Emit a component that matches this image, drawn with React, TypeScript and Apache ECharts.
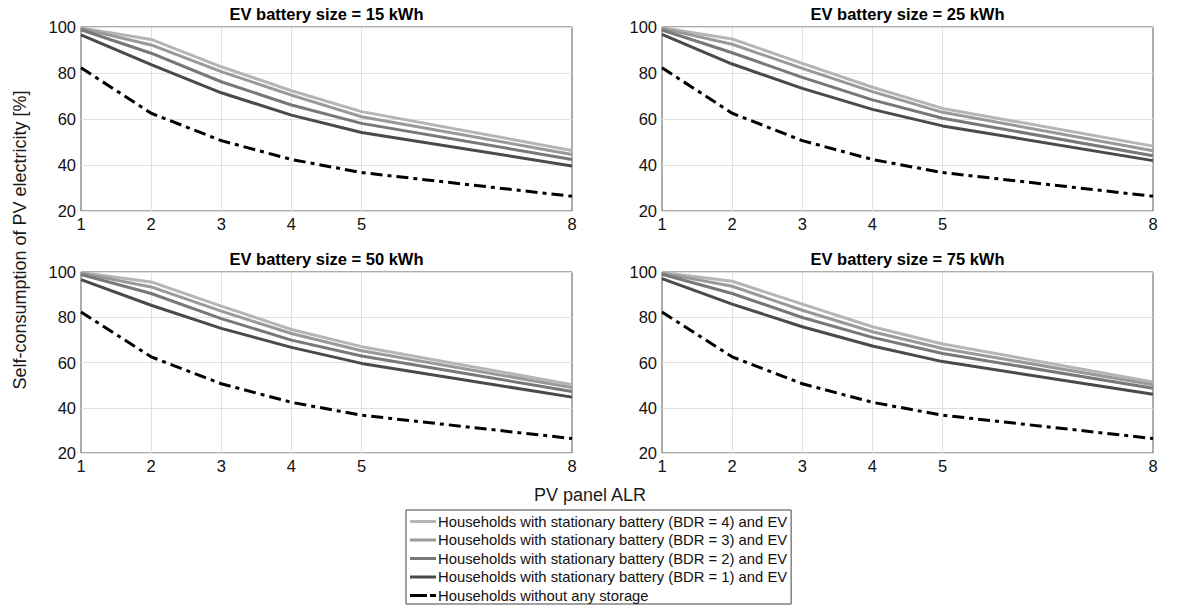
import React, { useEffect, useRef } from "react";
import * as echarts from "echarts";

const alr = [1, 2, 3, 4, 5, 8];
const xTickLabels = [1, 2, 3, 4, 5, 8];
const gridXValues = [2, 3, 4, 5];

const panelTitles = [
  "EV battery size = 15 kWh",
  "EV battery size = 25 kWh",
  "EV battery size = 50 kWh",
  "EV battery size = 75 kWh",
];

const seriesNames = [
  "Households with stationary battery (BDR = 4) and EV",
  "Households with stationary battery (BDR = 3) and EV",
  "Households with stationary battery (BDR = 2) and EV",
  "Households with stationary battery (BDR = 1) and EV",
  "Households without any storage",
];

// EV 15 kWh
const ev15Bdr4 = [99.6, 94.6, 82.7, 72.3, 63.2, 46.3];
const ev15Bdr3 = [99.4, 92.2, 80.6, 70.4, 61.0, 44.6];
const ev15Bdr2 = [98.8, 88.6, 76.2, 66.1, 58.1, 42.4];
const ev15Bdr1 = [96.6, 83.6, 71.4, 61.7, 54.1, 39.6];
// EV 25 kWh
const ev25Bdr4 = [99.7, 94.8, 84.2, 73.8, 64.6, 48.2];
const ev25Bdr3 = [99.4, 92.5, 82.0, 71.9, 62.9, 46.2];
const ev25Bdr2 = [98.7, 88.8, 78.1, 68.3, 60.3, 44.0];
const ev25Bdr1 = [96.8, 83.9, 73.3, 64.2, 57.0, 41.9];
// EV 50 kWh
const ev50Bdr4 = [99.8, 95.6, 84.9, 74.6, 67.0, 50.2];
const ev50Bdr3 = [99.5, 93.4, 82.7, 72.8, 65.2, 48.9];
const ev50Bdr2 = [98.9, 90.5, 79.4, 69.9, 62.9, 47.2];
const ev50Bdr1 = [96.6, 85.3, 75.1, 66.7, 59.6, 44.7];
// EV 75 kWh
const ev75Bdr4 = [99.8, 95.9, 85.8, 75.8, 68.2, 51.4];
const ev75Bdr3 = [99.5, 93.7, 83.1, 73.6, 66.2, 50.2];
const ev75Bdr2 = [99.0, 90.5, 79.9, 71.1, 64.0, 48.6];
const ev75Bdr1 = [97.1, 85.8, 75.8, 67.3, 60.4, 46.0];
// Without storage (same in all panels)
const noStorage = [82.3, 62.5, 50.6, 42.4, 36.7, 26.4];

const panelData = [
  [ev15Bdr4, ev15Bdr3, ev15Bdr2, ev15Bdr1, noStorage],
  [ev25Bdr4, ev25Bdr3, ev25Bdr2, ev25Bdr1, noStorage],
  [ev50Bdr4, ev50Bdr3, ev50Bdr2, ev50Bdr1, noStorage],
  [ev75Bdr4, ev75Bdr3, ev75Bdr2, ev75Bdr1, noStorage],
];

const seriesColors = ["#b5b5b5", "#999999", "#787878", "#4a4a4a", "#000000"];

const gridBoxes = [
  { left: 81, top: 27, width: 491, height: 184 },
  { left: 662, top: 27, width: 491, height: 184 },
  { left: 81, top: 272, width: 491, height: 181 },
  { left: 662, top: 272, width: 491, height: 181 },
];

const FONT = "'Liberation Sans', Arial, Helvetica, sans-serif";
const SOLID_ICON = "path://M0,0h26v3h-26z";
const DASHDOT_ICON = "path://M0,0h17v3h-17z M20,0h6v3h-6z";

export default function App() {
  const ref = useRef<HTMLDivElement>(null);

  useEffect(() => {
    if (!ref.current) return;
    const chart = echarts.init(ref.current, undefined, { renderer: "svg" });

    const grids = gridBoxes.map((g) => ({
      ...g,
      show: true,
      borderColor: "#5a5a5a",
      borderWidth: 1,
      backgroundColor: "#ffffff",
      containLabel: false,
    }));

    const xAxes = gridBoxes.map((_, i) => ({
      type: "value",
      gridIndex: i,
      min: 1,
      max: 8,
      interval: 1,
      axisLine: { show: false },
      axisTick: { show: false },
      splitLine: { show: false },
      axisLabel: {
        show: true,
        color: "#111",
        fontSize: 16.5,
        fontFamily: FONT,
        margin: 4,
        formatter: (v: number) => (xTickLabels.includes(v) ? String(v) : ""),
      },
    }));

    const yAxes = gridBoxes.map((_, i) => ({
      type: "value",
      gridIndex: i,
      min: 20,
      max: 100,
      interval: 20,
      axisLine: { show: false },
      axisTick: { show: false },
      splitLine: { show: true, lineStyle: { color: "#e0e0e0", width: 1 } },
      axisLabel: {
        color: "#111",
        fontSize: 16.5,
        fontFamily: FONT,
        margin: 5,
      },
    }));

    const series: any[] = [];
    panelData.forEach((lines, p) => {
      lines.forEach((vals, s) => {
        const isDash = s === 4;
        series.push({
          type: "line",
          name: seriesNames[s],
          xAxisIndex: p,
          yAxisIndex: p,
          data: alr.map((x, k) => [x, vals[k]]),
          showSymbol: false,
          symbol: "none",
          color: seriesColors[s],
          lineStyle: {
            color: seriesColors[s],
            width: 3,
            type: isDash ? [12, 5, 4, 5] : "solid",
          },
          z: 3 + s,
          markLine:
            s === 0
              ? {
                  silent: true,
                  symbol: "none",
                  label: { show: false },
                  lineStyle: { color: "#e0e0e0", width: 1, type: "solid" },
                  data: gridXValues.map((v) => ({ xAxis: v })),
                  z: 1,
                }
              : undefined,
        });
      });
    });

    const titles = gridBoxes.map((g, i) => ({
      text: panelTitles[i],
      left: g.left + g.width / 2,
      top: g.top - 22,
      textAlign: "center",
      padding: 0,
      textStyle: {
        fontSize: 16.5,
        fontWeight: "bold",
        color: "#000",
        fontFamily: FONT,
      },
    }));

    chart.setOption({
      animation: false,
      backgroundColor: "#ffffff",
      title: titles,
      grid: grids,
      xAxis: xAxes,
      yAxis: yAxes,
      series,
      legend: {
        data: seriesNames.map((n, i) => ({
          name: n,
          icon: i === 4 ? DASHDOT_ICON : SOLID_ICON,
          itemStyle: { color: seriesColors[i] },
        })),
        orient: "vertical",
        left: 406,
        top: 510,
        height: 110,
        itemWidth: 26,
        itemHeight: 3,
        itemGap: 3.5,
        padding: [4, 4, 1, 4],
        borderColor: "#444",
        borderWidth: 1,
        backgroundColor: "#fff",
        selectedMode: false,
        textStyle: {
          fontSize: 14.8,
          lineHeight: 14,
          color: "#111",
          fontFamily: FONT,
          padding: [0, 0, 0, -3],
        },
      },
      graphic: [
        {
          type: "text",
          x: 20,
          y: 240,
          rotation: Math.PI / 2,
          style: {
            text: "Self-consumption of PV electricity [%]",
            fontSize: 18,
            fontFamily: FONT,
            fill: "#1a1a1a",
            align: "center",
            verticalAlign: "middle",
          },
        },
        {
          type: "text",
          x: 590,
          y: 495,
          style: {
            text: "PV panel ALR",
            fontSize: 18,
            fontFamily: FONT,
            fill: "#1a1a1a",
            align: "center",
            verticalAlign: "middle",
          },
        },
      ],
    });

    return () => chart.dispose();
  }, []);

  return (
    <div
      ref={ref}
      style={{ position: "absolute", left: 0, top: 0, width: 1181, height: 605 }}
    />
  );
}
